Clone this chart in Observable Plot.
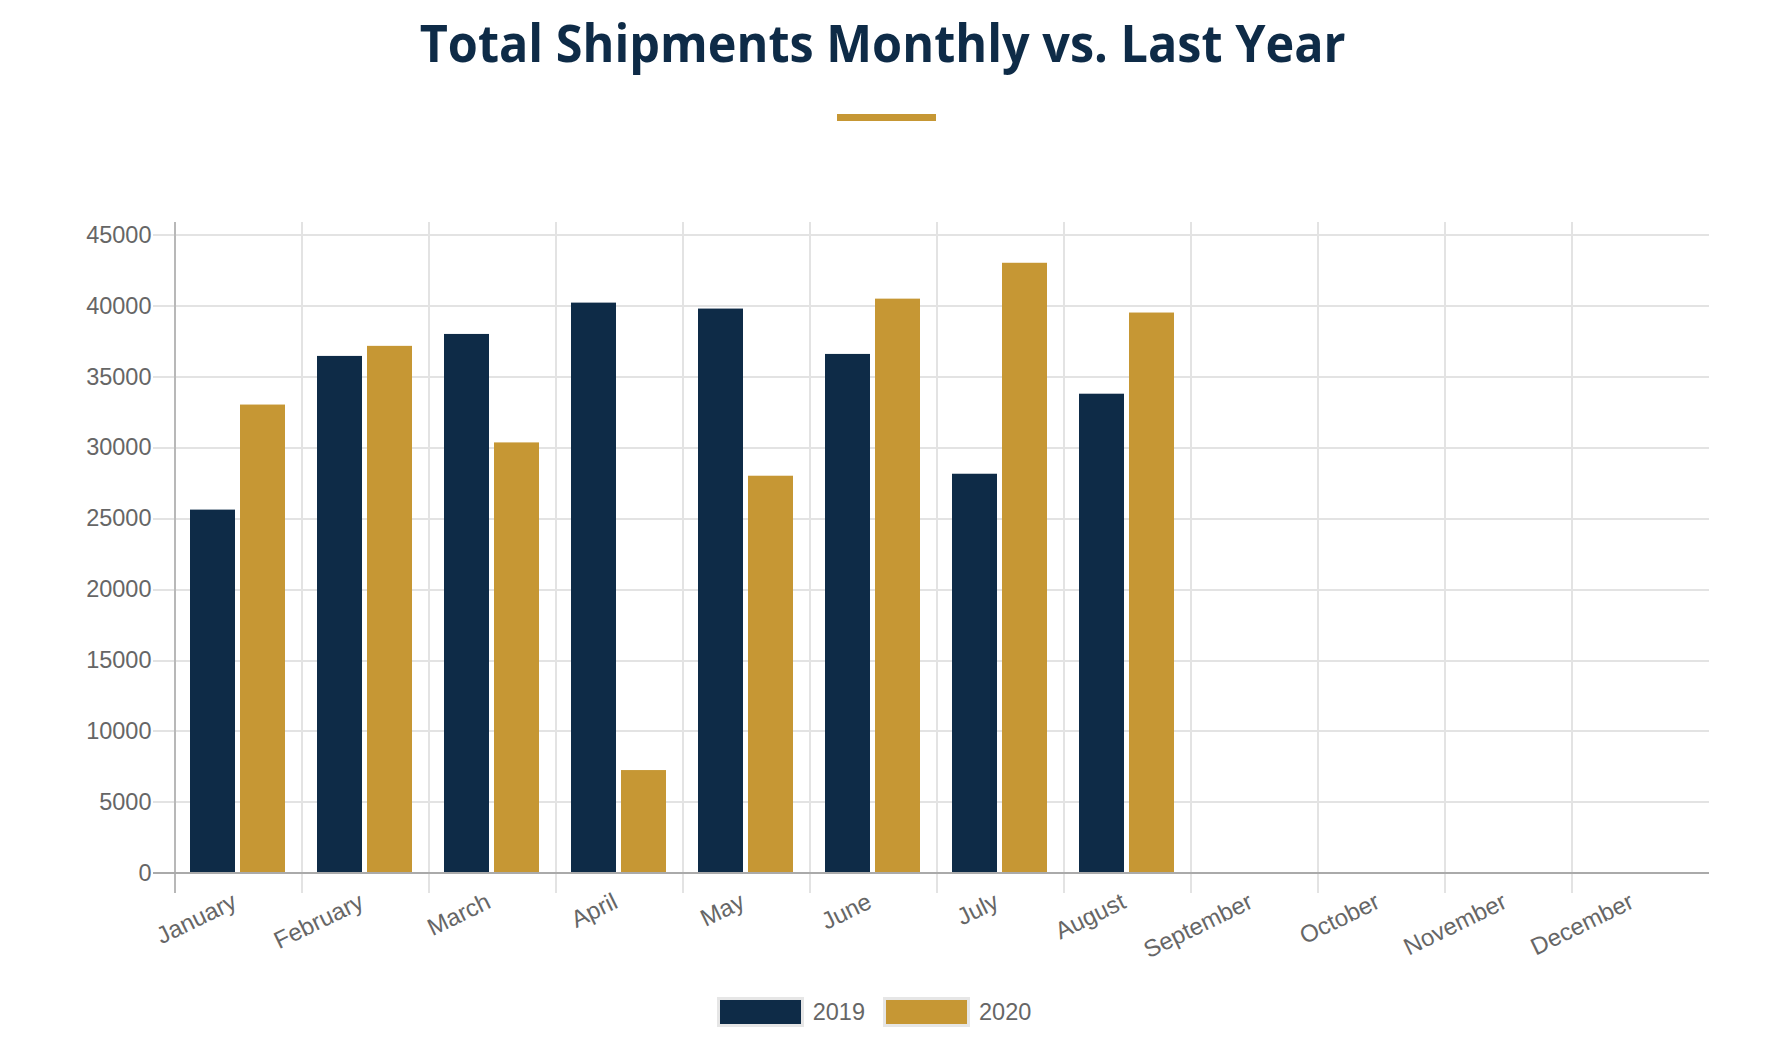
<!DOCTYPE html>
<html>
<head>
<meta charset="utf-8">
<script src="https://cdn.jsdelivr.net/npm/d3@7"></script>
<script src="https://cdn.jsdelivr.net/npm/@observablehq/plot@0.6"></script>
<style>
  body { margin: 0; background: #fff; width: 1766px; }
  #head { position: relative; height: 150px; }
  #title { position: absolute; left: 0; right: 0; top: 17px; margin: 0; text-align: center;
           font-family: "Open Sans", sans-serif; font-weight: 700; font-size: 51.4px; line-height: 1; color: #0e2b47; }
  #title span { display: inline-block; transform-origin: center; white-space: nowrap; }
  #rule { position: absolute; left: 837px; top: 114px; width: 99px; height: 7px; background: #c69734; }
  #chart svg { display: block; overflow: visible; }
  #legend { display: flex; justify-content: center; align-items: center; height: 30px; margin-top: 39px;
            font-family: "Liberation Sans", Arial, sans-serif; font-size: 23.5px; color: #666; }
  .sw { box-sizing: border-box; width: 87px; height: 30px; border: 3px solid #e6e6e6; margin-right: 9px; }
  .lab { margin-right: 18px; line-height: 30px; }
</style>
</head>
<body>
<div id="head">
  <h1 id="title"><span>Total Shipments Monthly vs. Last Year</span></h1>
  <div id="rule"></div>
</div>
<div id="chart"></div>
<div id="legend"></div>
<script>
const months = ["January","February","March","April","May","June","July","August","September","October","November","December"];
const years = ["2019","2020"];
const colors = ["#0e2b47","#c69734"];
const values2019 = [25610, 36450, 38000, 40210, 39790, 36590, 28140, 33785];
const values2020 = [33020, 37160, 30350, 7240, 28000, 40490, 43020, 39510];
const yTicks = [0, 5000, 10000, 15000, 20000, 25000, 30000, 35000, 40000, 45000];

// one row per month and year; months not yet reported have no value
const series = {"2019": values2019, "2020": values2020};
const rows = months.flatMap((m, i) => years.map(y => ({month: m, year: y, value: series[y][i] ?? null})));

const gridColor = "#e3e3e3";
const crisp = "crispEdges";
const chart = Plot.plot({
  width: 1766,
  height: 808,
  marginTop: 72,
  marginLeft: 172,
  marginRight: 67,
  marginBottom: 85.3,
  style: {fontFamily: "'Liberation Sans', Arial, sans-serif", fontSize: "23.5px", color: "#666", background: "#fff"},
  fx: {domain: months, paddingInner: 0, paddingOuter: 0, axis: null, label: null},
  x: {domain: years, paddingInner: 0.1, paddingOuter: 0.3, axis: null, label: null},
  y: {domain: [0, 45000], insetTop: 12.7, axis: null, label: null},
  color: {domain: years, range: colors},
  marks: [
    Plot.ruleY(yTicks, {stroke: gridColor, strokeWidth: 2, insetLeft: -21, insetRight: -11, shapeRendering: crisp}),
    Plot.frame({anchor: "left", stroke: gridColor, strokeWidth: 2, insetBottom: -19, shapeRendering: crisp}),
    Plot.frame({anchor: "left", facetAnchor: "left", stroke: "#b8b8b8", strokeWidth: 2, insetBottom: -19, shapeRendering: crisp}),
    Plot.barY(rows, {fx: "month", x: "year", y: "value", fill: "year"}),
    Plot.ruleY([0], {stroke: "#aaa", strokeWidth: 2, insetLeft: -21, insetRight: -11, shapeRendering: crisp}),
    Plot.axisY(yTicks, {anchor: "left", tickSize: 0, tickPadding: 23, tickFormat: d => String(d), fill: "#666", fontSize: 23.5, label: null}),
    Plot.axisFx({anchor: "bottom", tickSize: 0, tickPadding: 27, tickRotate: -26, textAnchor: "end", dx: -3, fill: "#666", fontSize: 24, label: null})
  ]
});
document.getElementById("chart").appendChild(chart);

const legend = d3.select("#legend");
years.forEach((y, i) => {
  legend.append("div").attr("class", "sw").style("background", colors[i]);
  legend.append("div").attr("class", "lab").text(y);
});

const span = document.querySelector("#title span");
const w = span.getBoundingClientRect().width;
span.style.transform = `scaleX(${926 / w})`;
</script>
</body>
</html>
